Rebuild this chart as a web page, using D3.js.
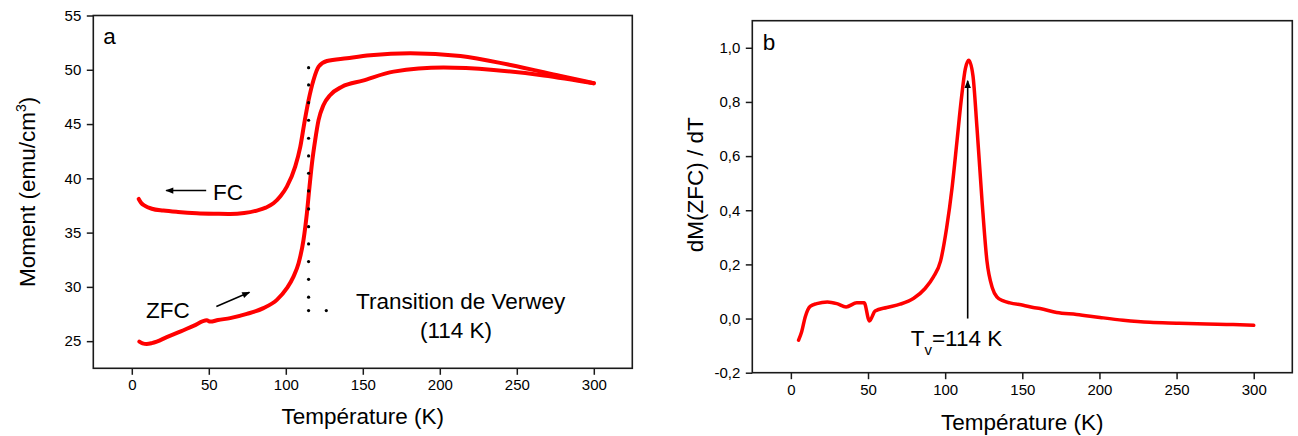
<!DOCTYPE html>
<html>
<head>
<meta charset="utf-8">
<script src="https://cdn.jsdelivr.net/npm/d3@7"></script>
<style>
  html, body { margin: 0; padding: 0; background: #fff; }
  svg { display: block; }
  text { font-family: "Liberation Sans", Arial, Helvetica, sans-serif; fill: #000; }
</style>
</head>
<body>
<svg id="chart" width="1298" height="436"></svg>
<script>
// ---------- DATA ----------
// Panel a: ZFC curve (T in K, moment in emu/cm3)
const zfcT = [4.9, 7, 9.7, 13, 16.2, 22.7, 31.4, 40, 48.7, 50.9, 56, 63.9, 74.7, 85.5, 94.2, 100.7, 105, 108.3, 111.5, 113.7, 115.4, 117, 119.1, 121.3, 124.5, 128.9, 136.5, 150, 170, 202.5, 235, 267.5, 300];
const zfcM = [24.96, 24.8, 24.74, 24.82, 24.96, 25.37, 25.88, 26.41, 26.92, 26.8, 26.95, 27.12, 27.51, 28.04, 28.8, 29.88, 30.95, 32.18, 34.33, 36.79, 39.24, 41.39, 43.54, 45.38, 46.76, 47.68, 48.44, 49.0, 49.83, 50.2, 49.98, 49.48, 48.76];
// Panel a: FC curve
const fcT = [4.5, 6, 8.6, 13, 20.5, 30, 42.2, 55, 63.9, 73, 81.2, 87, 92, 96.5, 100.7, 106.1, 109.4, 112, 114.8, 118, 121.3, 126.7, 139.7, 154.9, 180.9, 213.4, 245.9, 278.4, 300];
const fcM = [38.1, 37.75, 37.46, 37.2, 37.03, 36.9, 36.79, 36.74, 36.72, 36.8, 37.03, 37.3, 37.7, 38.35, 39.24, 41.08, 42.9, 45.07, 47.2, 49.06, 50.29, 50.81, 51.06, 51.33, 51.52, 51.27, 50.44, 49.43, 48.76];
// Verwey transition marker (dotted line at 114 K)
const verweyT = 114.8;
const verweyDotsM = [50.19, 48.6, 46.97, 45.35, 43.69, 42.06, 40.47, 38.84, 37.18, 35.55, 33.96, 32.33, 30.7, 29.05, 27.82];
const extraDot = [126.3, 27.82];
// Panel b: dM(ZFC)/dT
const dT = [5, 7, 9.3, 12.5, 16.8, 23.7, 29.8, 35.8, 42.7, 47.5, 50.9, 54.6, 62.2, 70.8, 79.4, 87, 92.4, 97, 101, 104.5, 107.7, 110.4, 113.1, 115.3, 118, 120.6, 123.9, 127.1, 130.6, 133.5, 137.7, 142, 150.6, 157.1, 161.5, 172.3, 185.2, 200.3, 215.4, 232.7, 250, 269.4, 286.6, 300];
const dV = [-0.08, -0.049, 0.006, 0.045, 0.055, 0.061, 0.055, 0.043, 0.058, 0.058, -0.009, 0.028, 0.041, 0.053, 0.074, 0.111, 0.154, 0.212, 0.336, 0.484, 0.657, 0.806, 0.923, 0.954, 0.898, 0.707, 0.435, 0.212, 0.113, 0.08, 0.065, 0.058, 0.049, 0.041, 0.037, 0.022, 0.015, 0.004, -0.006, -0.014, -0.017, -0.020, -0.022, -0.025];
const tvT = 114.6, tvFrom = 0.0, tvTo = 0.878;

// Axes ticks and labels
const xTicks = [0, 50, 100, 150, 200, 250, 300];
const xTickLabels = ["0", "50", "100", "150", "200", "250", "300"];
const yTicksA = [25, 30, 35, 40, 45, 50, 55];
const yTickLabelsA = ["25", "30", "35", "40", "45", "50", "55"];
const yTicksB = [-0.2, 0, 0.2, 0.4, 0.6, 0.8, 1.0];
const yTickLabelsB = ["-0,2", "0,0", "0,2", "0,4", "0,6", "0,8", "1,0"];

// ---------- DRAWING ----------
const svg = d3.select("#chart");
const RED = "#ff0000";
const AX = "#1a1a1a";

svg.append("defs").append("marker")
  .attr("id", "ah").attr("viewBox", "0 0 10 10").attr("refX", 9).attr("refY", 5)
  .attr("markerWidth", 8).attr("markerHeight", 8).attr("markerUnits", "userSpaceOnUse")
  .attr("orient", "auto")
  .append("path").attr("d", "M0,1 L10,5 L0,9 Z").attr("fill", "#000");
svg.select("defs").append("marker")
  .attr("id", "ah2").attr("viewBox", "0 0 10 10").attr("refX", 9).attr("refY", 5)
  .attr("markerWidth", 13).attr("markerHeight", 8).attr("markerUnits", "userSpaceOnUse")
  .attr("orient", "auto")
  .append("path").attr("d", "M0,1 L10,5 L0,9 Z").attr("fill", "#000");

function frame(x, y, labels, yTicks, xr, yr) {
  const g = svg.append("g");
  g.append("g").attr("transform", `translate(0,${yr[0]})`)
    .call(d3.axisBottom(x).tickValues(xTicks).tickFormat((d, i) => labels.x[i]).tickSizeOuter(0).tickSize(6.5).tickPadding(5))
    .call(s => { s.select(".domain").remove(); s.selectAll("line").attr("stroke", AX).attr("stroke-width", 1.5);
      s.selectAll("text").attr("font-size", 15).attr("font-family", "Liberation Sans, Arial, sans-serif").attr("fill", "#000"); });
  g.append("g").attr("transform", `translate(${xr[0]},0)`)
    .call(d3.axisLeft(y).tickValues(yTicks).tickFormat((d, i) => labels.y[i]).tickSizeOuter(0).tickSize(6.5).tickPadding(5.5))
    .call(s => { s.select(".domain").remove(); s.selectAll("line").attr("stroke", AX).attr("stroke-width", 1.5);
      s.selectAll("text").attr("font-size", 15).attr("font-family", "Liberation Sans, Arial, sans-serif").attr("fill", "#000"); });
  g.append("rect").attr("x", xr[0]).attr("y", yr[1]).attr("width", xr[1] - xr[0]).attr("height", yr[0] - yr[1])
    .attr("fill", "none").attr("stroke", AX).attr("stroke-width", 1.6);
}

// ----- Panel a -----
const xrA = [93.3, 632.3], yrA = [368.3, 15.5];
const xA = d3.scaleLinear().domain([-25, 325]).range(xrA);
const yA = d3.scaleLinear().domain([22.5, 55]).range(yrA);
frame(xA, yA, { x: xTickLabels, y: yTickLabelsA }, yTicksA, xrA, yrA);

const lineA = d3.line().x(d => xA(d[0])).y(d => yA(d[1])).curve(d3.curveMonotoneX);
svg.append("path").datum(zfcT.map((t, i) => [t, zfcM[i]])).attr("d", lineA)
  .attr("fill", "none").attr("stroke", RED).attr("stroke-width", 4).attr("stroke-linecap", "round").attr("stroke-linejoin", "round");
svg.append("path").datum(fcT.map((t, i) => [t, fcM[i]])).attr("d", lineA)
  .attr("fill", "none").attr("stroke", RED).attr("stroke-width", 4).attr("stroke-linecap", "round").attr("stroke-linejoin", "round");

svg.append("g").selectAll("circle").data(verweyDotsM.map(m => [verweyT, m]).concat([extraDot])).join("circle")
  .attr("cx", d => xA(d[0])).attr("cy", d => yA(d[1])).attr("r", 1.6).attr("fill", "#000");

svg.append("text").attr("x", xrA[0] + 10).attr("y", 44).attr("font-size", 22.5).text("a");

// FC arrow + label
svg.append("line").attr("x1", xA(48.3)).attr("y1", yA(38.87)).attr("x2", xA(22.3)).attr("y2", yA(38.87))
  .attr("stroke", "#000").attr("stroke-width", 1.5).attr("marker-end", "url(#ah2)");
svg.append("text").attr("x", xA(52.7)).attr("y", yA(38.0)).attr("font-size", 22.5).text("FC");
// ZFC arrow + label
svg.append("line").attr("x1", xA(54.9)).attr("y1", yA(28.19)).attr("x2", xA(76.4)).attr("y2", yA(29.51))
  .attr("stroke", "#000").attr("stroke-width", 1.5).attr("marker-end", "url(#ah2)");
svg.append("text").attr("x", xA(9.3)).attr("y", yA(27.15)).attr("font-size", 22.5).text("ZFC");

svg.append("text").attr("x", 356).attr("y", 309).attr("font-size", 22.5).text("Transition de Verwey");
svg.append("text").attr("x", 420).attr("y", 338).attr("font-size", 22.5).text("(114 K)");

svg.append("text").attr("x", (xrA[0] + xrA[1]) / 2).attr("y", 424).attr("text-anchor", "middle").attr("font-size", 22.5).text("Température (K)");
const ytA = svg.append("text").attr("transform", `translate(35,${(yrA[0] + yrA[1]) / 2}) rotate(-90)`).attr("text-anchor", "middle").attr("font-size", 22.5);
ytA.append("tspan").text("Moment (emu/cm");
ytA.append("tspan").attr("font-size", 14).attr("dy", -9).text("3");
ytA.append("tspan").attr("dy", 9).text(")");

// ----- Panel b -----
const xrB = [752.3, 1292.3], yrB = [372.7, 20.7];
const xB = d3.scaleLinear().domain([-25, 325]).range(xrB);
const yB = d3.scaleLinear().domain([-0.2, 1.1]).range(yrB);
frame(xB, yB, { x: xTickLabels, y: yTickLabelsB }, yTicksB, xrB, yrB);

const lineB = d3.line().x(d => xB(d[0])).y(d => yB(d[1])).curve(d3.curveMonotoneX);
svg.append("path").datum(dT.map((t, i) => [t, dV[i]])).attr("d", lineB)
  .attr("fill", "none").attr("stroke", RED).attr("stroke-width", 3.5).attr("stroke-linecap", "round").attr("stroke-linejoin", "round");

svg.append("line").attr("x1", xB(tvT)).attr("y1", yB(tvFrom)).attr("x2", xB(tvT)).attr("y2", yB(tvTo))
  .attr("stroke", "#000").attr("stroke-width", 1.6).attr("marker-end", "url(#ah2)");

svg.append("text").attr("x", xrB[0] + 10.5).attr("y", 50).attr("font-size", 22.5).text("b");

const tv = svg.append("text").attr("x", 910.7).attr("y", 346).attr("font-size", 22.5);
tv.append("tspan").text("T");
tv.append("tspan").attr("font-size", 15).attr("dy", 9).text("v");
tv.append("tspan").attr("dy", -9).text("=114 K");

svg.append("text").attr("x", (xrB[0] + xrB[1]) / 2).attr("y", 430).attr("text-anchor", "middle").attr("font-size", 22.5).text("Température (K)");
svg.append("text").attr("transform", `translate(703,${(yrB[0] + yrB[1]) / 2 - 12}) rotate(-90)`).attr("text-anchor", "middle").attr("font-size", 22.5).text("dM(ZFC) / dT");
</script>
</body>
</html>
